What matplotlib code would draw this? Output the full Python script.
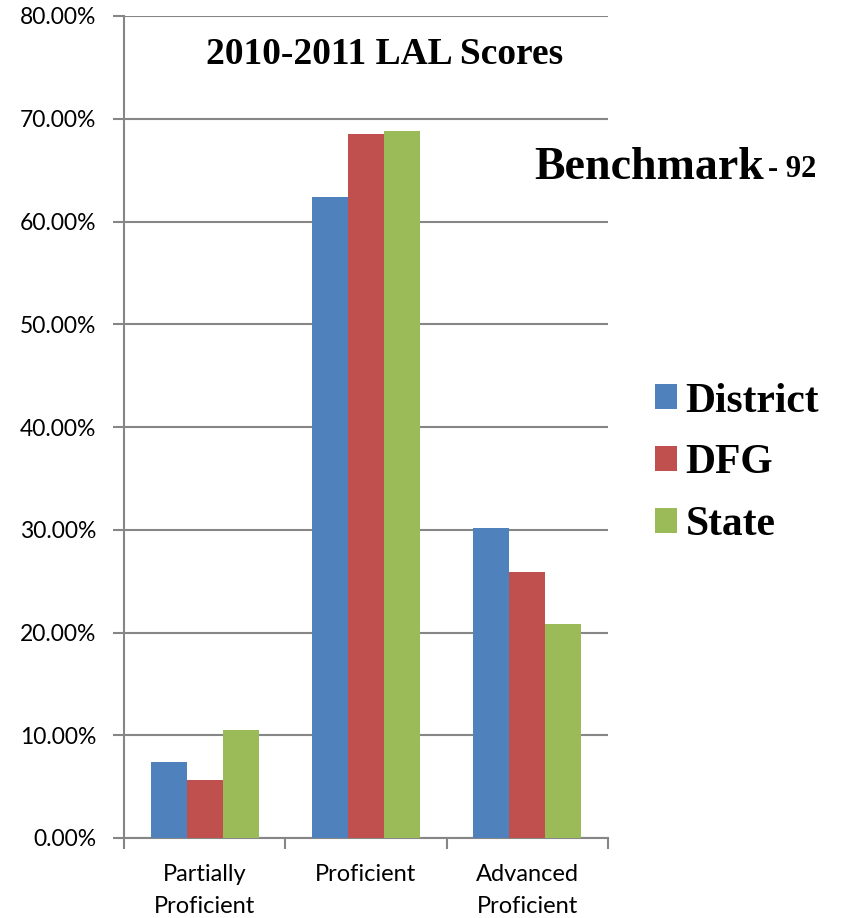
import matplotlib
matplotlib.use("Agg")
import matplotlib.pyplot as plt
import numpy as np
from matplotlib.ticker import FuncFormatter, FixedLocator

# chart data
categories = ["Partially\nProficient", "Proficient", "Advanced\nProficient"]
series_names = ["District", "DFG", "State"]
district = [7.4, 62.4, 30.2]
dfg = [5.6, 68.5, 25.9]
state = [10.5, 68.8, 20.8]
colors = ["#4F81BD", "#C0504D", "#9BBB59"]

SERIF = "Liberation Serif"
SANS = ["Lato", "DejaVu Sans"]

fig = plt.figure(figsize=(8.44, 9.18), dpi=100)
ax = fig.add_axes([124 / 844, 80 / 918, 484 / 844, 822 / 918])

x = np.arange(len(categories))
width = 0.223
for i, (vals, name) in enumerate(zip([district, dfg, state], series_names)):
    ax.bar(x + (i - 1) * width, vals, width, color=colors[i], label=name, zorder=3)

ax.set_xlim(-0.5, 2.5)
ax.set_ylim(0, 80)
ax.set_yticks(np.arange(0, 81, 10))
ax.yaxis.set_major_formatter(FuncFormatter(lambda v, p: f"{v:.2f}%"))
ax.grid(axis="y", color="#868686", linewidth=1.5, zorder=0)

ax.set_xticks(x)
ax.set_xticklabels(categories, fontsize=17, family=SANS, linespacing=1.6)
ax.tick_params(axis="x", which="major", length=0, pad=19)
ax.xaxis.set_minor_locator(FixedLocator([-0.5, 0.5, 1.5, 2.5]))
ax.tick_params(axis="x", which="minor", length=8, width=1.5, color="#868686")
ax.tick_params(axis="y", length=8, width=1.5, color="#868686", labelsize=16.5, pad=12)
for lab in ax.get_yticklabels():
    lab.set_family(SANS)

for side in ["top", "right"]:
    ax.spines[side].set_visible(False)
for side in ["left", "bottom"]:
    ax.spines[side].set_color("#868686")
    ax.spines[side].set_linewidth(1.5)

fig.text(385 / 844, 1 - 55 / 918, "2010-2011 LAL Scores", ha="center", va="center",
         family=SERIF, weight="bold", fontsize=27)
fig.text(534 / 844, 1 - 168 / 918, "Benchmark", ha="left", va="center",
         family=SERIF, weight="bold", fontsize=33)
fig.text(768 / 844, 1 - 170 / 918, "- 92", ha="left", va="center",
         family=SERIF, weight="bold", fontsize=22)

fig.legend(loc="upper left", bbox_to_anchor=(617 / 844, 1 - 345 / 918), frameon=False,
           prop={"family": SERIF, "weight": "bold", "size": 30},
           handlelength=0.55, handleheight=0.55, handletextpad=0.2, labelspacing=0.57)

fig.savefig("out.png", dpi=100)
